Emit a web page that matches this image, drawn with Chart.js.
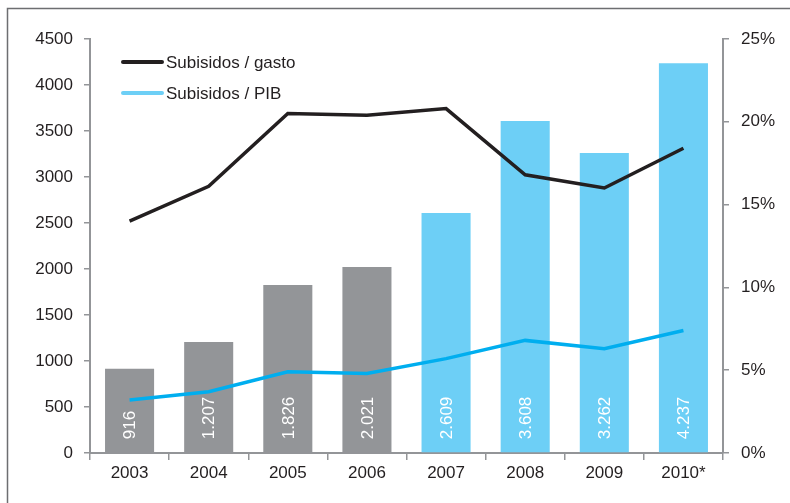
<!DOCTYPE html>
<html><head><meta charset="utf-8">
<script src="https://cdn.jsdelivr.net/npm/chart.js@4"></script>
<style>html,body{margin:0;padding:0;background:#fff}#wrap{width:790px;height:503px;position:relative}</style>
</head><body><div id="wrap"><canvas id="c" width="790" height="503"></canvas></div>
<script>
const categories = ['2003','2004','2005','2006','2007','2008','2009','2010*'];
const subsidios = [916,1207,1826,2021,2609,3608,3262,4237];
const barLabels = ['916','1.207','1.826','2.021','2.609','3.608','3.262','4.237'];
const subsidiosGasto = [14.0,16.1,20.5,20.4,20.8,16.8,16.0,18.4];
const subsidiosPIB = [3.2,3.7,4.9,4.8,5.7,6.8,6.3,7.4];
const leftTicks = [0,500,1000,1500,2000,2500,3000,3500,4000,4500];
const rightTicks = [0,5,10,15,20,25];

const GRAY='#939598', BLUE_BAR='#6dcff6', BLUE_LINE='#00aeef', BLACK='#231f20', TXT='#231f20';
const barColors = ['gray','gray','gray','gray','blue','blue','blue','blue'].map(c=>c==='gray'?GRAY:BLUE_BAR);
const FONT = {family:'"Liberation Sans", Arial, sans-serif', size:17};

const framePlugin = {
  id:'frame',
  beforeDraw(chart){
    const ctx=chart.ctx; ctx.save();
    ctx.fillStyle='#fff'; ctx.fillRect(0,0,chart.width,chart.height);
    ctx.strokeStyle='#6d6e71'; ctx.lineWidth=1.5;
    ctx.beginPath(); ctx.moveTo(7.5,503); ctx.lineTo(7.5,8.5); ctx.lineTo(790,8.5); ctx.stroke();
    ctx.restore();
  }
};
const barLabelPlugin = {
  id:'barLabels',
  afterDatasetDraw(chart,args){
    if(args.index!==0) return;
    const ctx=chart.ctx; const meta=chart.getDatasetMeta(0);
    ctx.save(); ctx.fillStyle='#fff'; ctx.font='17px "Liberation Sans", Arial, sans-serif';
    ctx.textAlign='left'; ctx.textBaseline='middle';
    meta.data.forEach((el,i)=>{
      ctx.save(); ctx.translate(el.x, el.base-13); ctx.rotate(-Math.PI/2);
      ctx.fillText(barLabels[i],0,1); ctx.restore();
    });
    ctx.restore();
  }
};
const legendPlugin = {
  id:'customLegend',
  afterDraw(chart){
    const ctx=chart.ctx; ctx.save();
    const items=[{t:'Subisidos / gasto',c:BLACK,y:62},{t:'Subisidos / PIB',c:BLUE_BAR,y:93}];
    ctx.font='17px "Liberation Sans", Arial, sans-serif'; ctx.textBaseline='middle'; ctx.fillStyle=TXT;
    items.forEach(it=>{
      ctx.strokeStyle=it.c; ctx.lineWidth=4; ctx.lineCap='round';
      ctx.beginPath(); ctx.moveTo(123,it.y); ctx.lineTo(162,it.y); ctx.stroke();
      ctx.fillText(it.t,166,it.y+1);
    });
    ctx.restore();
  }
};

new Chart(document.getElementById('c'),{
  data:{
    labels:categories,
    datasets:[
      {type:'bar',label:'Subsidios',data:subsidios,backgroundColor:barColors,yAxisID:'y',barPercentage:0.62,categoryPercentage:1,order:2},
      {type:'line',label:'Subisidos / gasto',data:subsidiosGasto,borderColor:BLACK,borderWidth:3.5,pointRadius:0,tension:0,yAxisID:'y1',order:1},
      {type:'line',label:'Subisidos / PIB',data:subsidiosPIB,borderColor:BLUE_LINE,borderWidth:3.5,pointRadius:0,tension:0,yAxisID:'y1',order:1}
    ]
  },
  options:{
    responsive:false, animation:false, devicePixelRatio:1,
    layout:{padding:{top:39,left:0,right:0,bottom:0}},
    plugins:{legend:{display:false},tooltip:{enabled:false}},
    scales:{
      x:{type:'category',offset:true,
        grid:{offset:true,drawOnChartArea:false,tickLength:7,color:GRAY,lineWidth:1.5},
        border:{color:GRAY,width:2},
        ticks:{color:TXT,font:FONT,padding:3,maxRotation:0},
        afterFit(s){s.height=50;}},
      y:{position:'left',min:0,max:4500,
        afterBuildTicks(s){s.ticks=leftTicks.map(v=>({value:v}));},
        grid:{drawOnChartArea:false,tickLength:6,color:GRAY,lineWidth:1.5},
        border:{color:GRAY,width:2},
        ticks:{color:TXT,font:FONT,padding:11,callback:v=>String(v)},
        afterFit(s){s.width=90;}},
      y1:{position:'right',min:0,max:25,
        afterBuildTicks(s){s.ticks=rightTicks.map(v=>({value:v}));},
        grid:{drawOnChartArea:false,tickLength:6,color:GRAY,lineWidth:1.5},
        border:{color:GRAY,width:2},
        ticks:{color:TXT,font:FONT,padding:12,callback:v=>v+'%'},
        afterFit(s){s.width=67;}}
    }
  },
  plugins:[framePlugin,barLabelPlugin,legendPlugin]
});
</script></body></html>
